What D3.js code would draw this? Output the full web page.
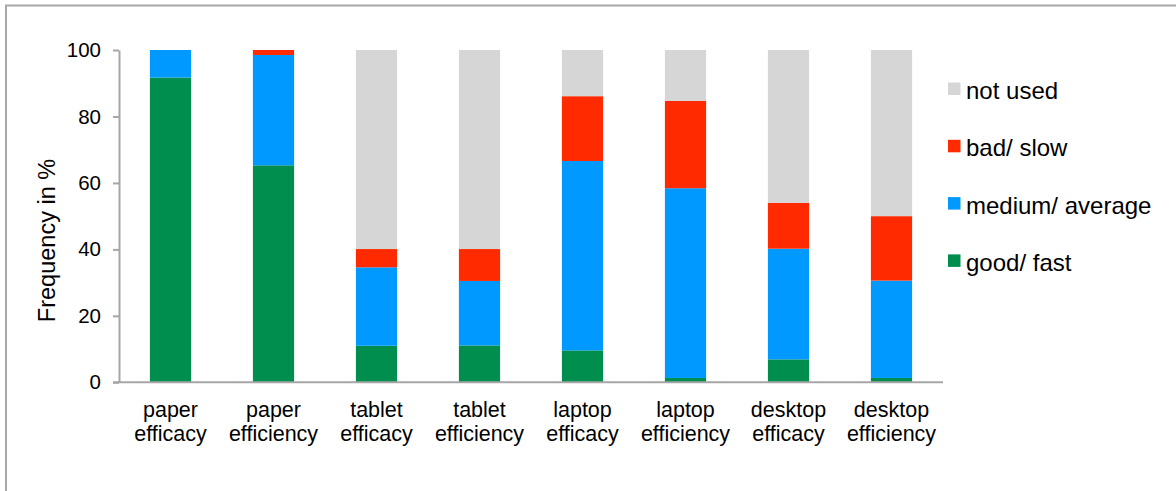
<!DOCTYPE html>
<html>
<head>
<meta charset="utf-8">
<script src="https://cdn.jsdelivr.net/npm/d3@7/dist/d3.min.js"></script>
<style>
  html, body { margin: 0; padding: 0; background: #fff; }
  svg { display: block; font-family: "Liberation Sans", Arial, sans-serif; }
</style>
</head>
<body>
<svg id="chart" width="1176" height="491"></svg>
<script>
// Categories (two-line labels) and stacked series, in percent
const categories = [
  ["paper", "efficacy"], ["paper", "efficiency"],
  ["tablet", "efficacy"], ["tablet", "efficiency"],
  ["laptop", "efficacy"], ["laptop", "efficiency"],
  ["desktop", "efficacy"], ["desktop", "efficiency"]
];
const goodFast      = [91.7, 65.3, 11.0, 11.1,  9.6,  1.3,  6.9,  1.3];
const mediumAverage = [ 8.3, 33.2, 23.6, 19.4, 57.0, 57.1, 33.3, 29.3];
const badSlow       = [ 0.0,  1.5,  5.5,  9.6, 19.5, 26.3, 13.8, 19.4];
const notUsed       = [ 0.0,  0.0, 59.9, 59.9, 13.9, 15.3, 46.0, 50.0];

const seriesNames  = ["good/ fast", "medium/ average", "bad/ slow", "not used"];
const seriesColors = ["#008e4f", "#0099ff", "#ff2a00", "#d6d6d6"];
const yTicks = [0, 20, 40, 60, 80, 100];

const svg = d3.select("#chart");

// outer frame
svg.append("path")
  .attr("d", "M6,491 V5.5 H1176")
  .attr("fill", "none")
  .attr("stroke", "#a8a8a8")
  .attr("stroke-width", 2);

const keys = categories.map(c => c.join(" "));
const rows = keys.map((k, i) => ({
  key: k,
  "good/ fast": goodFast[i],
  "medium/ average": mediumAverage[i],
  "bad/ slow": badSlow[i],
  "not used": notUsed[i]
}));

const x = d3.scaleBand().domain(keys).range([119, 943])
  .paddingInner(0.6).paddingOuter(0.3);
const y = d3.scaleLinear().domain([0, 100]).range([382.3, 50]);
const color = d3.scaleOrdinal().domain(seriesNames).range(seriesColors);

const stacked = d3.stack().keys(seriesNames)(rows);

svg.append("g").selectAll("g")
  .data(stacked).join("g")
  .attr("fill", d => color(d.key))
  .selectAll("rect")
  .data(d => d).join("rect")
  .attr("x", d => x(d.data.key))
  .attr("width", x.bandwidth())
  .attr("y", d => y(d[1]))
  .attr("height", d => y(d[0]) - y(d[1]));

// y axis
const yAxis = svg.append("g")
  .attr("transform", "translate(119,0)")
  .call(d3.axisLeft(y).tickValues(yTicks).tickSize(6).tickPadding(12).tickSizeOuter(0));
yAxis.select(".domain").attr("stroke", "#a6a6a6").attr("stroke-width", 2);
yAxis.selectAll(".tick line").attr("stroke", "#a6a6a6").attr("stroke-width", 2);
yAxis.selectAll(".tick text")
  .attr("font-size", 20.5).attr("fill", "#000")
  .attr("font-family", "Liberation Sans, Arial, sans-serif");

// x axis
const xAxis = svg.append("g")
  .attr("transform", "translate(0,382.3)")
  .call(d3.axisBottom(x).tickSize(0).tickSizeOuter(0).tickFormat(""));
xAxis.select(".domain").attr("stroke", "#a6a6a6").attr("stroke-width", 2)
  .attr("d", "M113,0H943");

// category labels
const labels = svg.append("g")
  .attr("font-size", 21.5).attr("fill", "#000").attr("text-anchor", "middle");
categories.forEach((c, i) => {
  const t = labels.append("text")
    .attr("x", x(keys[i]) + x.bandwidth() / 2)
    .attr("y", 416.7);
  c.forEach((line, j) => {
    t.append("tspan")
      .attr("x", x(keys[i]) + x.bandwidth() / 2)
      .attr("dy", j === 0 ? 0 : 24)
      .text(line);
  });
});

// y axis title
svg.append("text")
  .attr("transform", "translate(55,240.5) rotate(-90)")
  .attr("text-anchor", "middle")
  .attr("font-size", 23.5)
  .attr("fill", "#000")
  .text("Frequency in %");

// legend, top entry is the top of the stack
const legendItems = seriesNames.slice().reverse();
const legend = svg.append("g");
legendItems.forEach((name, i) => {
  const yy = 99 + i * 57.3;
  legend.append("rect")
    .attr("x", 948).attr("y", yy - 16.5)
    .attr("width", 12.5).attr("height", 12.5)
    .attr("fill", color(name));
  legend.append("text")
    .attr("x", 966).attr("y", yy)
    .attr("font-size", 24).attr("fill", "#000")
    .text(name);
});
</script>
</body>
</html>
